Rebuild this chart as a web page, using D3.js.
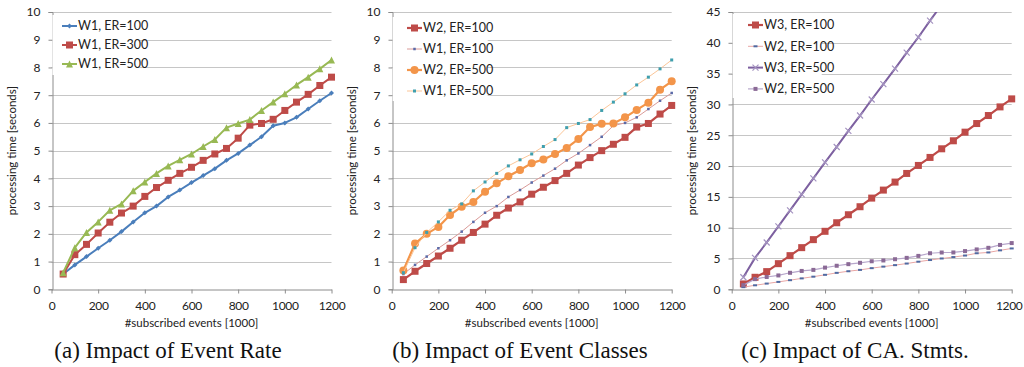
<!DOCTYPE html>
<html>
<head>
<meta charset="utf-8">
<script src="https://cdn.jsdelivr.net/npm/d3@7"></script>
<style>
  body { margin: 0; background: #fff; }
  svg { display: block; }
  .tick text { font-family: Lato, "Open Sans", sans-serif; }
</style>
</head>
<body>
<svg id="chart" width="1024" height="367"></svg>
<script>
// subscribed events [1000]
const events = [50, 100, 150, 200, 250, 300, 350, 400, 450, 500, 550, 600,
  650, 700, 750, 800, 850, 900, 950, 1000, 1050, 1100, 1150, 1200];

const w1er100 = [0.55, 0.88, 1.18, 1.48, 1.77, 2.08, 2.43, 2.76, 3.0, 3.33, 3.58, 3.85,
  4.1, 4.35, 4.65, 4.9, 5.2, 5.5, 5.9, 6.0, 6.2, 6.5, 6.8, 7.08];
const w1er300 = [0.55, 1.25, 1.62, 2.03, 2.42, 2.75, 3.0, 3.35, 3.67, 3.93, 4.18, 4.4,
  4.65, 4.88, 5.08, 5.45, 5.92, 5.98, 6.13, 6.45, 6.75, 7.03, 7.35, 7.65];
const w1er500 = [0.6, 1.5, 2.05, 2.43, 2.85, 3.08, 3.55, 3.87, 4.18, 4.45, 4.67, 4.88,
  5.15, 5.4, 5.83, 5.98, 6.12, 6.45, 6.75, 7.05, 7.37, 7.65, 7.95, 8.27];
const w2er100 = [0.35, 0.65, 0.93, 1.2, 1.48, 1.77, 2.05, 2.35, 2.67, 2.93, 3.15, 3.43,
  3.68, 3.92, 4.18, 4.48, 4.75, 5.0, 5.23, 5.48, 5.85, 5.98, 6.32, 6.63];
const w2er500 = [0.68, 1.65, 2.0, 2.25, 2.68, 2.98, 3.15, 3.52, 3.82, 4.08, 4.3, 4.55,
  4.68, 4.88, 5.1, 5.42, 5.85, 5.97, 5.98, 6.2, 6.47, 6.73, 7.2, 7.5];
const w3er100 = [0.87, 1.95, 2.87, 4.16, 5.46, 6.76, 8.06, 9.41, 10.8, 12.1, 13.4, 14.8,
  16.1, 17.4, 18.8, 20.1, 21.4, 22.8, 24.1, 25.5, 26.9, 28.2, 29.6, 30.9];
// leaves the plot above 45 s, only the visible part is read
const w3er500 = [1.95, 5.1, 7.6, 10.2, 12.8, 15.4, 18.0, 20.6, 23.1, 25.7, 28.2, 30.8,
  33.3, 35.8, 38.4, 40.9, 43.6, 46.2];

const xTicks = [0, 200, 400, 600, 800, 1000, 1200];
const yTicksTime = [0, 1, 2, 3, 4, 5, 6, 7, 8, 9, 10];
const yTicksStmts = [0, 5, 10, 15, 20, 25, 30, 35, 40, 45];
const captions = ["(a) Impact of Event Rate", "(b) Impact of Event Classes", "(c) Impact of CA. Stmts."];

const panels = [
  {
    left: 51.5, yMax: 10, yTicks: yTicksTime, caption: captions[0], captionX: 168,
    legend: { x: 62, y: 26, step: 19, w: 86, h: 60 },
    series: [
      { name: "W1, ER=100", values: w1er100, color: "#4a7ebb", width: 2, marker: "diamond", size: 5, mcolor: "#4a7ebb" },
      { name: "W1, ER=300", values: w1er300, color: "#be4b48", width: 2, marker: "square", size: 7, mcolor: "#be4b48" },
      { name: "W1, ER=500", values: w1er500, color: "#98b954", width: 2, marker: "triangle", size: 7, mcolor: "#98b954" }
    ]
  },
  {
    left: 391.7, yMax: 10, yTicks: yTicksTime, caption: captions[1], captionX: 520,
    legend: { x: 407, y: 28, step: 21, w: 95, h: 84 },
    series: [
      { name: "W2, ER=100", values: w2er100, color: "#be4b48", width: 2.2, marker: "square", size: 7, mcolor: "#be4b48" },
      { name: "W1, ER=100", values: w1er100, color: "#d99a98", width: 1, marker: "square", size: 2.5, mcolor: "#5a6aa8" },
      { name: "W2, ER=500", values: w2er500, color: "#f3954a", width: 2.2, marker: "circle", size: 8, mcolor: "#f3954a" },
      { name: "W1, ER=500", values: w1er500, color: "#fbc597", width: 1, marker: "square", size: 3, mcolor: "#3f9fae" }
    ]
  },
  {
    left: 731.7, yMax: 45, yTicks: yTicksStmts, caption: captions[2], captionX: 855,
    legend: { x: 748, y: 25, step: 21.3, w: 89, h: 84 },
    series: [
      { name: "W3, ER=100", values: w3er100, color: "#be4b48", width: 2.2, marker: "square", size: 7, mcolor: "#be4b48" },
      { name: "W2, ER=100", values: w2er100, color: "#e8a6a4", width: 1, marker: "dash", size: 4, mcolor: "#4f6aa2" },
      { name: "W3, ER=500", values: w3er500, color: "#7d60a0", width: 2, marker: "cross", size: 6, mcolor: "#a493c0" },
      { name: "W2, ER=500", values: w2er500, color: "#b7a6cb", width: 1.2, marker: "square", size: 4, mcolor: "#8b6a96" }
    ]
  }
];

const plotW = 280;
const plotTop = 12, plotBottom = 289.3;
const svg = d3.select("#chart");
svg.append("rect").attr("width", 1024).attr("height", 367).attr("fill", "#fff");

function drawMarker(g, type, cx, cy, s, color) {
  if (type === "square") {
    g.append("rect").attr("x", cx - s / 2).attr("y", cy - s / 2)
      .attr("width", s).attr("height", s).attr("fill", color);
  } else if (type === "circle") {
    g.append("circle").attr("cx", cx).attr("cy", cy).attr("r", s / 2).attr("fill", color);
  } else if (type === "diamond") {
    g.append("path").attr("d", `M${cx},${cy - s / 2}L${cx + s / 2},${cy}L${cx},${cy + s / 2}L${cx - s / 2},${cy}Z`)
      .attr("fill", color);
  } else if (type === "triangle") {
    g.append("path").attr("d", `M${cx},${cy - s / 2}L${cx + s / 2},${cy + s / 2}L${cx - s / 2},${cy + s / 2}Z`)
      .attr("fill", color);
  } else if (type === "dash") {
    g.append("rect").attr("x", cx - s / 2).attr("y", cy - 1)
      .attr("width", s).attr("height", 2).attr("fill", color);
  } else if (type === "cross") {
    g.append("path").attr("d", `M${cx - s / 2},${cy - s / 2}L${cx + s / 2},${cy + s / 2}M${cx - s / 2},${cy + s / 2}L${cx + s / 2},${cy - s / 2}`)
      .attr("stroke", color).attr("stroke-width", 1.2).attr("fill", "none");
  }
}

panels.forEach((p, i) => {
  const x = d3.scaleLinear().domain([0, 1200]).range([p.left, p.left + plotW]);
  const y = d3.scaleLinear().domain([0, p.yMax]).range([plotBottom, plotTop]);
  const g = svg.append("g");

  // grid
  g.append("g").selectAll("line").data(p.yTicks.slice(1)).enter().append("line")
    .attr("x1", p.left).attr("x2", p.left + plotW)
    .attr("y1", d => Math.round(y(d)) + 0.5).attr("y2", d => Math.round(y(d)) + 0.5)
    .attr("stroke", "#c6c6c6").attr("stroke-width", 1);

  // axes
  g.append("g")
    .attr("transform", `translate(${Math.round(p.left) + 0.5},0)`)
    .call(d3.axisLeft(y).tickValues(p.yTicks).tickSize(4).tickPadding(8).tickFormat(d3.format("d")))
    .call(a => a.select(".domain").attr("stroke", "#8c8c8c"))
    .call(a => a.selectAll(".tick line").attr("stroke", "#8c8c8c"))
    .call(a => a.selectAll(".tick text").attr("font-size", 12).attr("fill", "#222"));

  const xAxis = g.append("g")
    .attr("transform", `translate(0,${Math.round(plotBottom) + 0.5})`)
    .call(d3.axisBottom(x).tickValues(xTicks).tickSize(4).tickPadding(8).tickSizeOuter(0).tickFormat(d3.format("d")))
    .call(a => a.select(".domain").attr("stroke", "#8c8c8c"))
    .call(a => a.selectAll(".tick line").attr("stroke", "#8c8c8c"))
    .call(a => a.selectAll(".tick text").attr("font-size", 12).attr("fill", "#222")
      .attr("letter-spacing", "-0.3px"));
  // the last label of the right panel sits against the page edge
  if (i === panels.length - 1) {
    xAxis.selectAll(".tick text").filter(d => d === 1200).attr("dx", -3);
  }

  // axis titles
  g.append("text")
    .attr("transform", `translate(${p.left - 36},${(plotTop + plotBottom) / 2}) rotate(-90)`)
    .attr("text-anchor", "middle")
    .attr("font-family", "Lato, 'Open Sans', sans-serif").attr("font-size", 11.5).attr("fill", "#222")
    .text("processing time [seconds]");
  g.append("text")
    .attr("x", p.left + plotW / 2).attr("y", 327)
    .attr("text-anchor", "middle")
    .attr("font-family", "Lato, 'Open Sans', sans-serif").attr("font-size", 11.5).attr("fill", "#222")
    .text("#subscribed events [1000]");

  // caption
  g.append("text")
    .attr("x", p.captionX).attr("y", 358)
    .attr("text-anchor", "middle")
    .attr("font-family", "'Liberation Serif', 'DejaVu Serif', serif").attr("font-size", 23).attr("fill", "#111")
    .text(p.caption);

  // series
  const clipId = "clip" + i;
  svg.append("clipPath").attr("id", clipId).append("rect")
    .attr("x", p.left).attr("y", plotTop).attr("width", plotW + 6).attr("height", plotBottom - plotTop + 6);
  const plot = g.append("g").attr("clip-path", `url(#${clipId})`);
  const line = d3.line().x((d, j) => x(events[j])).y(d => y(d));

  p.series.forEach(s => {
    plot.append("path").datum(s.values)
      .attr("d", line).attr("fill", "none")
      .attr("stroke", s.color).attr("stroke-width", s.width).attr("stroke-linejoin", "round");
    s.values.forEach((v, j) => drawMarker(plot, s.marker, x(events[j]), y(v), s.size, s.mcolor));
  });

  // legend
  const lg = g.append("g");
  lg.append("rect").attr("x", p.left + 1).attr("y", p.legend.y - 11)
    .attr("width", p.legend.w).attr("height", p.legend.h).attr("fill", "#fff");
  p.series.forEach((s, k) => {
    const ly = p.legend.y + k * p.legend.step;
    lg.append("line").attr("x1", p.legend.x).attr("x2", p.legend.x + 15)
      .attr("y1", ly).attr("y2", ly)
      .attr("stroke", s.color).attr("stroke-width", s.width);
    drawMarker(lg, s.marker, p.legend.x + 7.5, ly, s.size, s.mcolor);
    lg.append("text").attr("x", p.legend.x + 16).attr("y", ly).attr("dy", "0.35em")
      .attr("font-family", "Lato, 'Open Sans', sans-serif").attr("font-size", 12.5).attr("fill", "#222")
      .text(s.name);
  });
});
</script>
</body>
</html>
